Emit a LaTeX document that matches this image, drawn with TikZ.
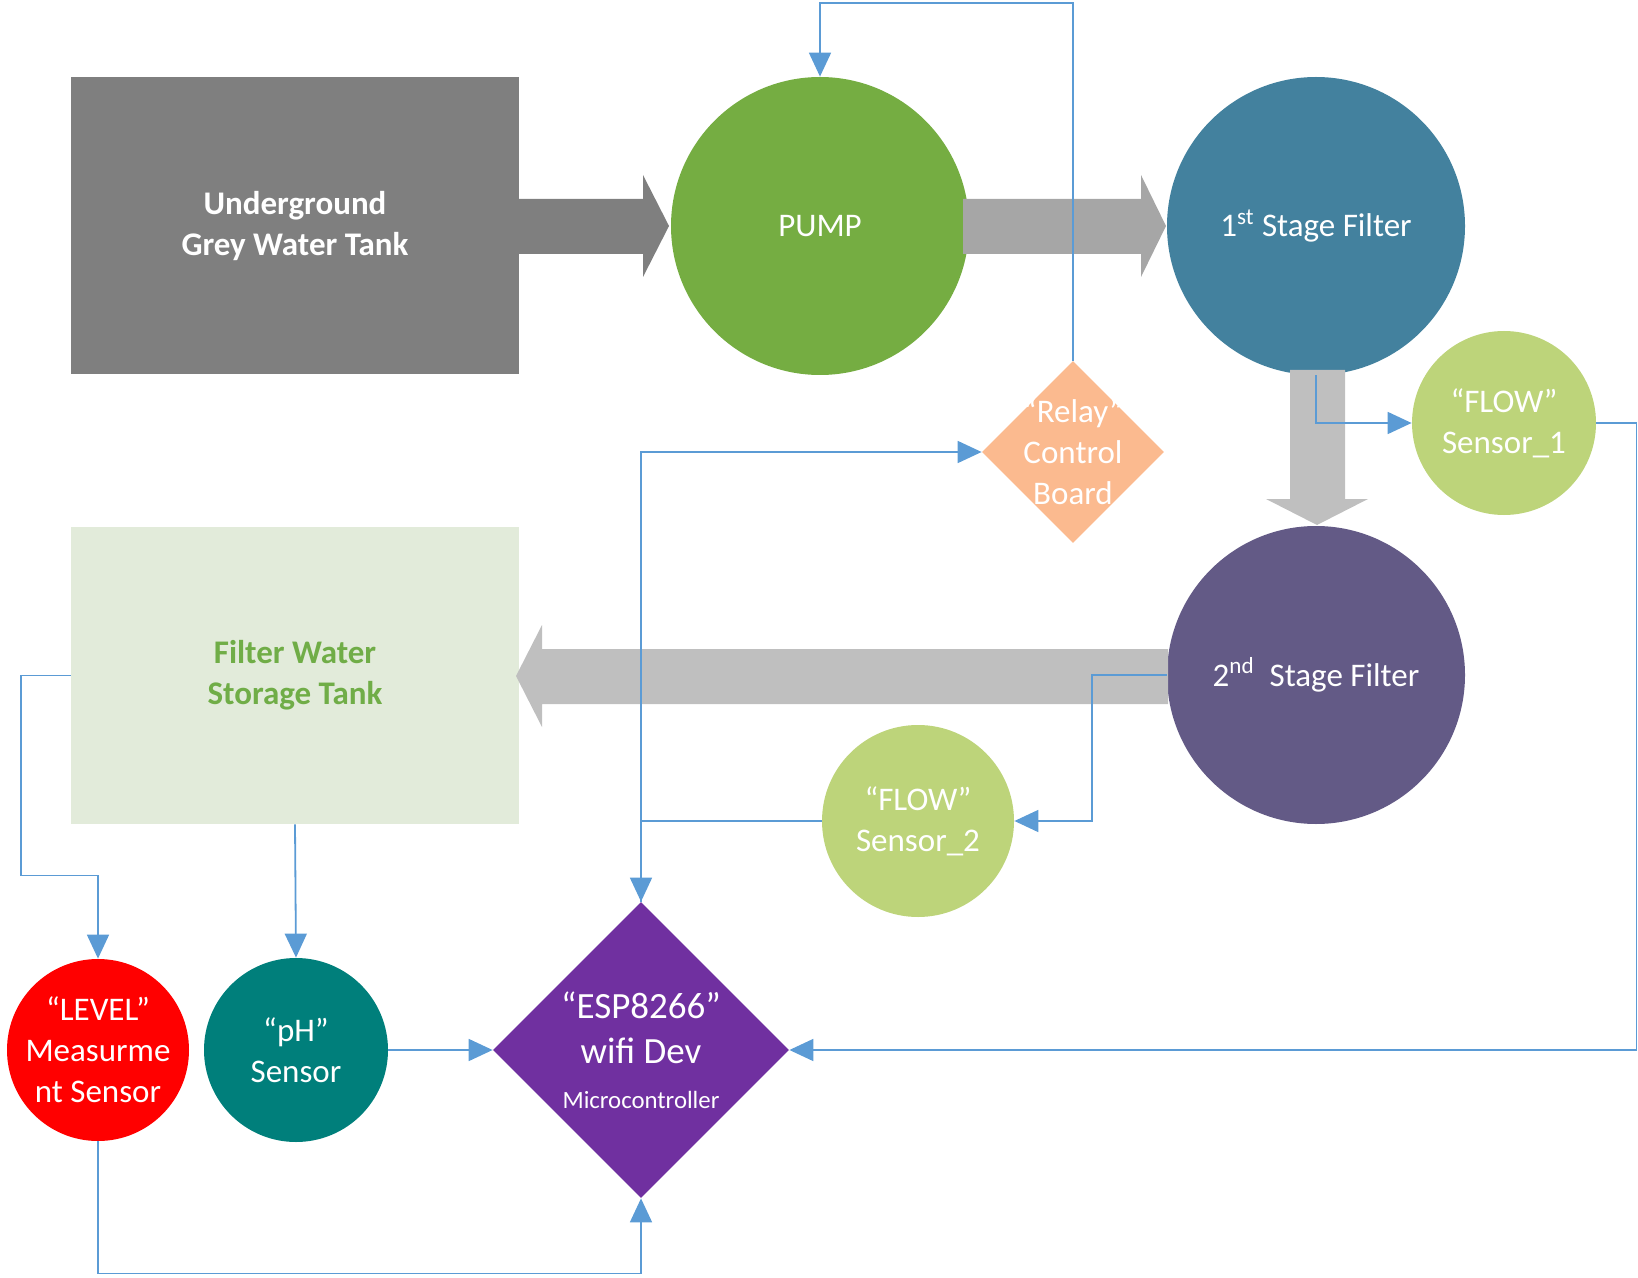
\documentclass[tikz,border=0pt]{standalone}
\usepackage{fontspec}
\setmainfont{Carlito}
\usetikzlibrary{shapes.geometric, arrows.meta}

\definecolor{tankgrey}{HTML}{7F7F7F}
\definecolor{pipegrey}{HTML}{A6A6A6}
\definecolor{flowgrey}{HTML}{BFBFBF}
\definecolor{pumpgreen}{HTML}{75AD42}
\definecolor{stageone}{HTML}{43819E}
\definecolor{stagetwo}{HTML}{635A86}
\definecolor{relayorange}{HTML}{FBBA8F}
\definecolor{sensorgreen}{HTML}{BDD47A}
\definecolor{storagefill}{HTML}{E2EBDA}
\definecolor{storagetext}{HTML}{70AD47}
\definecolor{levelred}{HTML}{FF0000}
\definecolor{phteal}{HTML}{007F7B}
\definecolor{esppurple}{HTML}{7030A0}
\definecolor{lineblue}{HTML}{5B9BD5}

\begin{document}
\begin{tikzpicture}[x=0.5pt, y=-0.5pt,
    wire/.style={draw=lineblue, line width=0.9pt, -{Triangle[length=12pt, width=11pt]}},
    bigfont/.style={font=\fontsize{16.5}{20.5}\selectfont},
    tank/.style={rectangle, inner sep=0pt, align=center, bigfont,
      minimum width=224pt, minimum height=148.5pt},
    blob/.style={circle, inner sep=0pt, align=center, text=white, bigfont},
    chip/.style={diamond, inner sep=0pt},
    chiptext/.style={text=white, align=center, bigfont}]
    \useasboundingbox (0,0) rectangle (1638,1278);
    \node[tank, fill=tankgrey, text=white] (grey) at (295,226) {\bfseries Underground\\\bfseries Grey Water Tank};
    \node[tank, fill=storagefill, text=storagetext] (storage) at (295,675.5) {\bfseries Filter Water\\\bfseries Storage Tank};
    \node[blob, fill=pumpgreen, minimum size=149pt] (pump) at (820,226) {PUMP};
    \node[blob, fill=stageone, minimum size=149pt] (filter1) at (1316,226) {1\textsuperscript{st} Stage Filter};
    \node[blob, fill=stagetwo, minimum size=149pt] (filter2) at (1316,675) {2\textsuperscript{nd}\ \ Stage Filter};
    \node[blob, fill=sensorgreen, minimum size=92pt] (flow1) at (1504,423) {“FLOW”\\Sensor\_1};
    \node[blob, fill=sensorgreen, minimum size=96pt] (flow2) at (918,821) {“FLOW”\\Sensor\_2};
    \node[blob, fill=levelred, minimum size=91pt] (level) at (98,1050) {“LEVEL”\\Measurme\\nt Sensor};
    \node[blob, fill=phteal, minimum size=92pt] (ph) at (296,1050) {“pH”\\Sensor};
    \node[chip, fill=relayorange, minimum size=91pt,
      label={[chiptext]center:{“Relay”\\Control\\Board}}] (relay) at (1073,452) {};
    \node[chip, fill=esppurple, minimum size=148pt,
      label={[chiptext, font=\fontsize{18.5}{22.5}\selectfont]center:{“ESP8266”\\wifi Dev\\{\fontsize{12.4}{15}\selectfont Microcontroller}}}] (esp) at (641,1050) {};
    \fill[tankgrey] (519,199) -- (643,199) -- (643,175) -- (669,226) -- (643,277) -- (643,254) -- (519,254) -- cycle;
    \fill[pipegrey] (963,199) -- (1141,199) -- (1141,175) -- (1166,226) -- (1141,277) -- (1141,254) -- (963,254) -- cycle;
    \fill[flowgrey] (1290,370) -- (1345,370) -- (1345,499) -- (1368,499) -- (1317,525) -- (1266,499) -- (1290,499) -- cycle;
    \fill[flowgrey] (1168,649) -- (542,649) -- (542,625) -- (516,676) -- (542,727) -- (542,704) -- (1168,704) -- cycle;
    \coordinate (top) at (0,3);
    \draw[wire] (relay.north) -- (relay.north |- top) -| (pump.north);
    \draw[wire] (filter1.south) |- (flow1.west);
    \draw[wire] (flow1.east) -- ++(40,0) |- (esp.east);
    \draw[wire] (filter2.west) -- ++(-75,0) |- (flow2.east);
    \draw[wire] (flow2.west) -| (esp.north);
    \draw[wire] (esp.north) |- (relay.west);
    \draw[wire] (storage.west) -- ++(-50,0) -- ++(0,200) -| (level.north);
    \draw[wire] (storage.south) -- (ph.north);
    \draw[wire] (ph.east) -- (esp.west);
    \draw[wire] (level.south) -- ++(0,132) -| (esp.south);
\end{tikzpicture}
\end{document}
